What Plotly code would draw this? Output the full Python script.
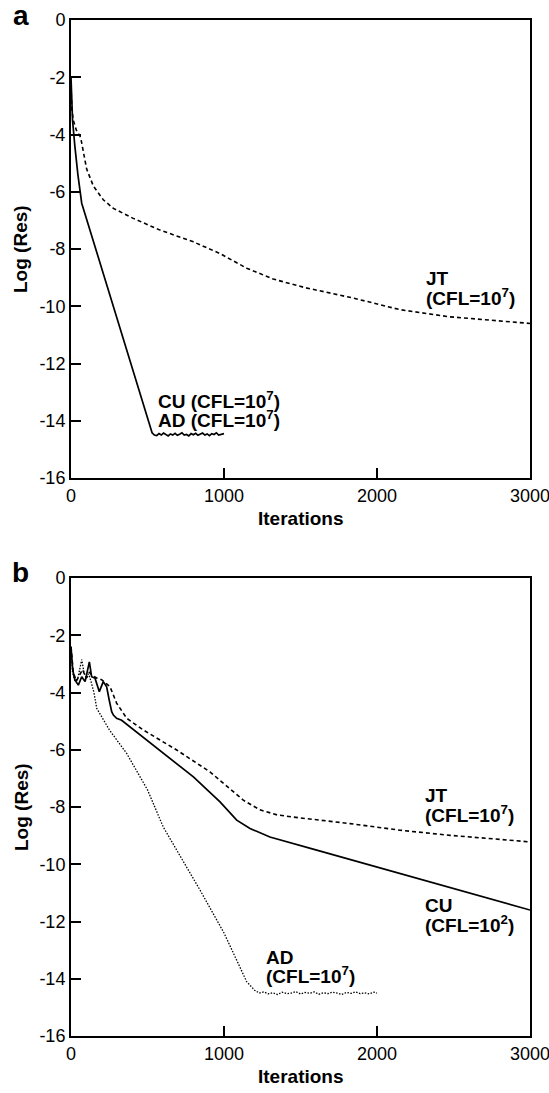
import plotly.graph_objects as go

W, H = 549, 1093
FONT = "Liberation Sans, Arial, Helvetica, sans-serif"

# ---------------- Panel a data ----------------
# CU and AD (CFL=1e7) collapse onto the same solid curve
iters_a_cuad = [0, 3, 10, 25, 45, 70, 515, 530, 545, 560, 575, 590, 605, 620, 635,
                650, 665, 680, 695, 710, 725, 740, 755, 770, 785, 800, 815, 830,
                845, 860, 875, 890, 905, 920, 935, 950, 965, 980, 1000]
res_a_cuad = [-2.0, -2.8, -3.5, -4.4, -5.4, -6.4, -14.2, -14.42, -14.50, -14.52,
              -14.45, -14.50, -14.43, -14.49, -14.53, -14.46, -14.50, -14.44,
              -14.51, -14.47, -14.42, -14.50, -14.48, -14.53, -14.45, -14.49,
              -14.44, -14.51, -14.47, -14.43, -14.50, -14.46, -14.52, -14.45,
              -14.48, -14.42, -14.50, -14.47, -14.45]

iters_a_jt = [0, 5, 15, 35, 63, 102, 146, 211, 277, 407, 582, 800, 974, 1148,
              1322, 1530, 1850, 2150, 2477, 2869, 3000]
res_a_jt = [-2.3, -3.1, -3.5, -3.85, -4.1, -5.2, -5.8, -6.28, -6.58, -6.93,
            -7.34, -7.75, -8.16, -8.67, -9.05, -9.35, -9.72, -10.12, -10.37,
            -10.55, -10.6]

# ---------------- Panel b data ----------------
iters_b_cu = [0, 11, 26, 48, 70, 92, 120, 135, 157, 185, 211, 233, 250, 266,
              277, 298, 331, 386, 582, 800, 974, 1083, 1170, 1300, 1600, 2000,
              2500, 3000]
res_b_cu = [-2.4, -3.2, -3.57, -3.74, -3.45, -3.62, -2.93, -3.45, -3.5, -3.97,
            -3.62, -3.8, -4.27, -4.67, -4.79, -4.9, -4.97, -5.2, -6.01, -6.95,
            -7.82, -8.46, -8.75, -9.05, -9.5, -10.1, -10.85, -11.6]

iters_b_jt = [0, 15, 35, 55, 75, 100, 120, 140, 170, 200, 230, 255, 298, 364,
              473, 691, 908, 1126, 1235, 1350, 1497, 1824, 2150, 2477, 2869, 3000]
res_b_jt = [-2.4, -3.3, -3.6, -3.4, -3.2, -3.5, -3.3, -3.4, -3.5, -3.55, -3.7,
            -3.8, -4.37, -4.9, -5.31, -6.01, -6.77, -7.76, -8.1, -8.28, -8.38,
            -8.58, -8.81, -8.99, -9.16, -9.22]

iters_b_ad = [0, 10, 25, 45, 70, 85, 100, 115, 130, 150, 168, 250, 364, 500,
              603, 843, 1000, 1148, 1200, 1230, 1260, 1290, 1320, 1350, 1380,
              1410, 1440, 1470, 1500, 1530, 1560, 1590, 1620, 1650, 1680, 1710,
              1740, 1770, 1800, 1830, 1860, 1890, 1920, 1950, 1980, 2000]
res_b_ad = [-2.4, -3.3, -3.6, -3.5, -2.85, -3.3, -3.5, -3.35, -3.6, -4.0, -4.55,
            -5.3, -6.13, -7.4, -8.7, -10.9, -12.4, -14.1, -14.4, -14.5, -14.46,
            -14.53, -14.49, -14.55, -14.47, -14.52, -14.50, -14.45, -14.53,
            -14.48, -14.51, -14.46, -14.54, -14.49, -14.52, -14.47, -14.50,
            -14.55, -14.48, -14.51, -14.46, -14.52, -14.49, -14.53, -14.47, -14.50]

x_ticks = [0, 1000, 2000, 3000]
x_ticktext = ["0", "1000", "2000", "3000"]
y_ticks = [0, -2, -4, -6, -8, -10, -12, -14, -16]
y_ticktext = ["0", "-2", "-4", "-6", "-8", "-10", "-12", "-14", "-16"]

# ---------------- layout geometry (pixels) ----------------
PX_L, PX_R = 71, 530
A_TOP, A_BOT = 20, 478
B_TOP, B_BOT = 578, 1036


def fx(px):
    return px / W


def fy(py):
    return 1 - py / H


fig = go.Figure()

solid = dict(color="black", width=1.7)
dashed = dict(color="black", width=1.6, dash="4px,3px")
dotted = dict(color="black", width=1.3, dash="1.5px,1.5px")

fig.add_trace(go.Scatter(x=iters_a_cuad, y=res_a_cuad, mode="lines", line=solid,
                         name="CU/AD (CFL=1e7)", xaxis="x", yaxis="y"))
fig.add_trace(go.Scatter(x=iters_a_jt, y=res_a_jt, mode="lines", line=dashed,
                         name="JT (CFL=1e7)", xaxis="x", yaxis="y"))

fig.add_trace(go.Scatter(x=iters_b_jt, y=res_b_jt, mode="lines", line=dashed,
                         name="JT (CFL=1e7)", xaxis="x2", yaxis="y2"))
fig.add_trace(go.Scatter(x=iters_b_cu, y=res_b_cu, mode="lines", line=solid,
                         name="CU (CFL=1e2)", xaxis="x2", yaxis="y2"))
fig.add_trace(go.Scatter(x=iters_b_ad, y=res_b_ad, mode="lines", line=dotted,
                         name="AD (CFL=1e7)", xaxis="x2", yaxis="y2"))

tickfont = dict(family=FONT, size=18, color="black")


def xaxis(anchor):
    return dict(range=[0, 3000], domain=[fx(PX_L), fx(PX_R)], anchor=anchor,
                showline=True, mirror=True, linecolor="black", linewidth=2,
                ticks="inside", ticklen=10, tickwidth=2, tickcolor="black",
                tickvals=x_ticks, ticktext=x_ticktext, tickfont=tickfont,
                ticklabeloverflow="allow", automargin=False,
                showgrid=False, zeroline=False)


def yaxis(anchor, top, bot):
    return dict(range=[-16, 0], domain=[fy(bot), fy(top)], anchor=anchor,
                showline=True, mirror=True, linecolor="black", linewidth=2,
                ticks="inside", ticklen=10, tickwidth=2, tickcolor="black",
                tickvals=y_ticks, ticktext=y_ticktext, tickfont=tickfont,
                ticklabeloverflow="allow", automargin=False,
                showgrid=False, zeroline=False)


fig.update_layout(
    width=W, height=H,
    margin=dict(l=0, r=0, t=0, b=0),
    paper_bgcolor="white", plot_bgcolor="white",
    showlegend=False,
    font=dict(family=FONT, color="black", size=18),
    xaxis=xaxis("y"), yaxis=yaxis("x", A_TOP, A_BOT),
    xaxis2=xaxis("y2"), yaxis2=yaxis("x2", B_TOP, B_BOT),
)

ann = []


def label(text, px, py, size=19, xanchor="left", angle=0):
    ann.append(dict(text=text, x=fx(px), y=fy(py), xref="paper", yref="paper",
                    xanchor=xanchor, yanchor="middle", showarrow=False,
                    textangle=angle, borderpad=0,
                    font=dict(family=FONT, size=size, color="black")))


# panel letters
label("<b>a</b>", 21, 15, size=28, xanchor="center")
label("<b>b</b>", 20, 572, size=28, xanchor="center")

# axis titles
label("<b>Log (Res)</b>", 21, (A_TOP + A_BOT) / 2, size=19, xanchor="center", angle=-90)
label("<b>Log (Res)</b>", 21, (B_TOP + B_BOT) / 2, size=19, xanchor="center", angle=-90)
label("<b>Iterations</b>", (PX_L + PX_R) / 2, 518, size=19, xanchor="center")
label("<b>Iterations</b>", (PX_L + PX_R) / 2, 1076, size=19, xanchor="center")

# panel a curve labels
label("<b>CU (CFL=10<sup>7</sup>)</b>", 157, 400)
label("<b>AD (CFL=10<sup>7</sup>)</b>", 157, 419)
label("<b>JT</b>", 425, 278)
label("<b>(CFL=10<sup>7</sup>)</b>", 425, 297)

# panel b curve labels
label("<b>JT</b>", 424, 795)
label("<b>(CFL=10<sup>7</sup>)</b>", 424, 814)
label("<b>CU</b>", 424, 905)
label("<b>(CFL=10<sup>2</sup>)</b>", 424, 924)
label("<b>AD</b>", 265, 957)
label("<b>(CFL=10<sup>7</sup>)</b>", 265, 975)

fig.update_layout(annotations=ann)

fig.write_html("out.html")
